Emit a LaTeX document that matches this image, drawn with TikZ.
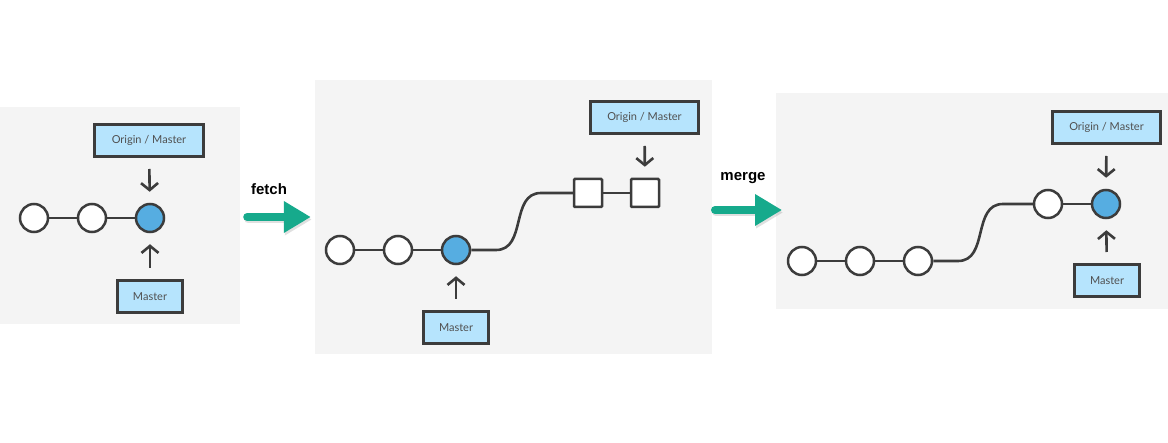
\documentclass[tikz,border=0pt]{standalone}
\usepackage{fontspec}
\newfontfamily\boxfont{Lato}
\newfontfamily\labelfont{Liberation Sans}
\usetikzlibrary{arrows.meta,positioning,calc}

\definecolor{panelgray}{RGB}{244,244,244}
\definecolor{boxblue}{RGB}{182,228,253}
\definecolor{linegray}{RGB}{60,60,60}
\definecolor{commitblue}{RGB}{86,173,225}
\definecolor{arrowteal}{RGB}{22,170,140}

\tikzset{
  panel/.style={rectangle, fill=panelgray, inner sep=0pt},
  commit/.style={circle, draw=linegray, line width=2.5pt, fill=white, minimum size=28pt, inner sep=0pt},
  headcommit/.style={commit, fill=commitblue},
  remotecommit/.style={rectangle, draw=linegray, line width=2.5pt, fill=white, minimum size=28pt, inner sep=0pt, rounded corners=1pt},
  refbox/.style={rectangle, draw=linegray, line width=3pt, fill=boxblue, minimum height=32pt, inner sep=0pt,
    font=\boxfont\fontsize{11}{13}\selectfont, text=linegray!90},
  link/.style={draw=linegray, line width=2.6pt},
  pointer/.style={link, -{Straight Barb[length=7pt,width=17pt]}, shorten <=11pt, shorten >=11pt},
  bigarrow/.style={line width=8pt, line cap=round, arrowteal, -{Triangle[length=27pt,width=30pt]}},
  bigshadow/.style={bigarrow, black, opacity=0.12},
  steplabel/.style={font=\labelfont\bfseries\fontsize{15}{17}\selectfont}
}

\begin{document}
\begin{tikzpicture}[x=1pt,y=-1pt]
  \useasboundingbox (0,0) rectangle (1168,443);

  % panels
  \node[panel, minimum width=240pt, minimum height=217pt] (pa) at (120,215.5) {};
  \node[panel, minimum width=397pt, minimum height=274pt] (pb) at (513.5,217) {};
  \node[panel, minimum width=392pt, minimum height=216pt] (pc) at (972,201) {};

  % before fetch
  \node[commit] (a1) at (34,218) {};
  \node[commit] (a2) at (92,218) {};
  \node[headcommit] (a3) at (150,218) {};
  \draw[link] (a1) -- (a2) (a2) -- (a3);
  \node[refbox, minimum width=109pt] (oa) at (149,140.5) {Origin / Master};
  \node[refbox, minimum width=65pt] (ma) at (150,296.5) {Master};
  \draw[pointer] (oa) -- (a3);
  \draw[pointer] (ma) -- (a3);

  % after fetch
  \node[commit] (b1) at (340,250) {};
  \node[commit] (b2) at (398,250) {};
  \node[headcommit] (b3) at (456,250) {};
  \node[remotecommit] (b4) at (588,193) {};
  \node[remotecommit] (b5) at (645,193) {};
  \draw[link] (b1) -- (b2) (b2) -- (b3) (b4) -- (b5);
  \draw[link] (b3.east) -- (496,250) .. controls (527,250) and (510,193) .. (541,193) -- (b4.west);
  \node[refbox, minimum width=108pt] (ob) at (644.5,117.5) {Origin / Master};
  \node[refbox, minimum width=65pt] (mb) at (456,327.5) {Master};
  \draw[pointer] (ob) -- (b5);
  \draw[pointer] (mb) -- (b3);

  % after merge
  \node[commit] (c1) at (802,261) {};
  \node[commit] (c2) at (860,261) {};
  \node[commit] (c3) at (918,261) {};
  \node[commit] (c4) at (1048,204) {};
  \node[headcommit] (c5) at (1106,204) {};
  \draw[link] (c1) -- (c2) (c2) -- (c3) (c4) -- (c5);
  \draw[link] (c3.east) -- (958,261) .. controls (989,261) and (972,204) .. (1003,204) -- (c4.west);
  \node[refbox, minimum width=108pt] (oc) at (1106.5,127.5) {Origin / Master};
  \node[refbox, minimum width=65pt] (mc) at (1107,280.5) {Master};
  \draw[pointer] (oc) -- (c5);
  \draw[pointer] (mc) -- (c5);

  % steps
  \coordinate (fa) at ($(pa.east)+(7,1.5)$);
  \coordinate (fb) at ($(pb.west)+(-4,0)$);
  \draw[bigshadow] ($(fa)+(1,2.5)$) -- ($(fb)+(1,2.5)$);
  \draw[bigarrow] (fa) -- (fb);
  \node[steplabel] (fetch) at (269,189) {fetch};

  \coordinate (ga) at (715,210);
  \coordinate (gb) at (782,210);
  \draw[bigshadow] ($(ga)+(1,2.5)$) -- ($(gb)+(1,2.5)$);
  \draw[bigarrow] (ga) -- (gb);
  \node[steplabel] (merge) at (743,178) {merge};
\end{tikzpicture}
\end{document}
